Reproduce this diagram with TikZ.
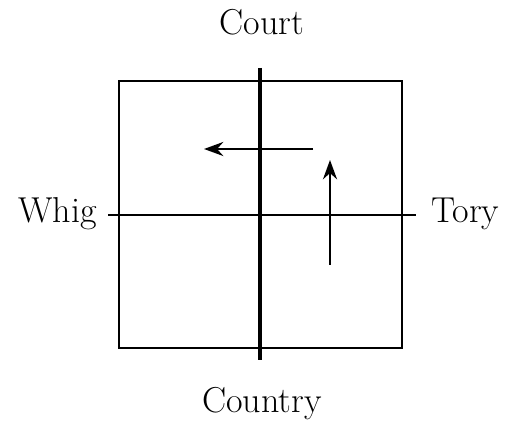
\documentclass[tikz,border=0pt]{standalone}
\usepackage{tikz}
\usetikzlibrary{arrows.meta}

\tikzset{
    axislabel/.style={font=\fontsize{20.5}{24}\selectfont, inner sep=0pt},
    moveline/.style={line width=1.3pt, -{Stealth[length=11pt, width=8pt]}}
}

\begin{document}
\begin{tikzpicture}[x=0.02cm, y=-0.02cm]
    \useasboundingbox (0,0) rectangle (511,425);

    % Box
    \draw[line width=1.5pt] (119,81) rectangle (402,348);

    % Axes
    \coordinate (top) at (260,68);
    \coordinate (bottom) at (260,360);
    \coordinate (left) at (108,215);
    \coordinate (right) at (416,215);
    \draw[line width=2pt] (top) -- (bottom);
    \draw[line width=1.5pt] (left) -- (right);

    % Labels
    \node[axislabel] (court) at (262,22) {Court};
    \node[axislabel] (country) at (262,404) {Country};
    \node[axislabel, anchor=east] (whig) at (97,214) {Whig};
    \node[axislabel, anchor=west] (tory) at (431,214) {Tory};

    % Movements
    \coordinate (hstart) at (313,149);
    \coordinate (hend) at (204,149);
    \coordinate (vstart) at (330,265);
    \coordinate (vend) at (330,160);
    \draw[moveline] (hstart) -- (hend);
    \draw[moveline] (vstart) -- (vend);
\end{tikzpicture}
\end{document}
